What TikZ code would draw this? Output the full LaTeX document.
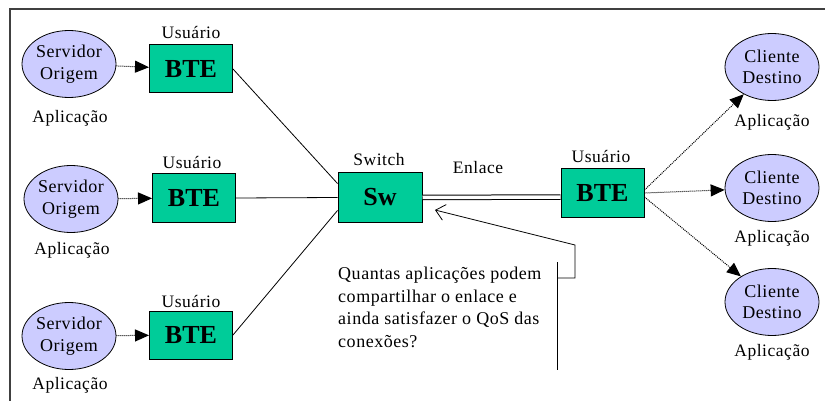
\documentclass[tikz,border=0pt]{standalone}
\usepackage{fontspec}
\setmainfont[LetterSpace=3]{Liberation Serif}
\newfontfamily\btefont{Liberation Serif}
\usetikzlibrary{arrows.meta,shapes.geometric}
\definecolor{appfill}{RGB}{204,204,255}
\definecolor{btefill}{RGB}{0,204,153}
\definecolor{framegray}{RGB}{64,64,64}
\tikzset{
  app/.style={ellipse,draw=black,line width=0.8pt,fill=appfill,minimum width=94pt,minimum height=67pt,inner sep=0pt,align=center,font=\fontsize{18}{21.5}\selectfont},
  btebox/.style={rectangle,draw=black,line width=1pt,fill=btefill,minimum width=83pt,minimum height=48pt,inner sep=0pt,font=\btefont\fontsize{26}{28}\selectfont\bfseries},
  lbl/.style={font=\fontsize{17.5}{21}\selectfont,inner sep=0pt},
  flow/.style={densely dotted,line width=1pt,-{Triangle[length=14pt,width=12pt]}},
  wire/.style={line width=0.8pt},
}
\begin{document}
\begin{tikzpicture}[x=1pt,y=-1pt]
\useasboundingbox (0,0) rectangle (825,401);
% frame
\draw[framegray,line width=1.5pt] (10,401) -- (10,9) -- (825,9);

% source applications
\node[app] (s1) at (69,64) {Servidor\\Origem};
\node[app] (s2) at (71,199) {Servidor\\Origem};
\node[app] (s3) at (69,336) {Servidor\\Origem};
\node[lbl] at (70,118) {Aplicação};
\node[lbl] at (72,250) {Aplicação};
\node[lbl] at (70,385) {Aplicação};

% user BTEs on the source side
\node[btebox] (b1) at (191,69) {BTE};
\node[btebox] (b2) at (194,198) {BTE};
\node[btebox] (b3) at (191,335) {BTE};
\node[lbl] at (191,33) {Usuário};
\node[lbl] at (192,163) {Usuário};
\node[lbl] at (191,301) {Usuário};

\draw[flow] (s1) -- (b1);
\draw[flow] (s2) -- (b2);
\draw[flow] (s3) -- (b3);

% switch
\node[btebox,minimum width=84pt,minimum height=49pt] (sw) at (380,197.5) {Sw};
\node[lbl] at (379,160) {Switch};

\draw[wire] (b1.east) -- ([yshift=14pt]sw.west);
\draw[wire] (b2.east) -- (sw.west);
\draw[wire] (b3.east) -- ([yshift=-13pt]sw.west);

% destination BTE and the shared link
\node[btebox] (br) at (602.5,193) {BTE};
\node[lbl] at (601,157) {Usuário};
\draw[line width=1pt,double distance=3.5pt] (sw.east) -- ([yshift=-4pt]br.west);
\node[lbl] at (478,168) {Enlace};

% destination applications
\node[app] (c1) at (772,67) {Cliente\\Destino};
\node[app] (c2) at (772,188) {Cliente\\Destino};
\node[app] (c3) at (772,302) {Cliente\\Destino};
\node[lbl] at (772,122) {Aplicação};
\node[lbl] at (772,238) {Aplicação};
\node[lbl] at (772,352) {Aplicação};

\draw[flow] ([yshift=3pt]br.east) -- (c1);
\draw[flow] (br.east) -- (c2);
\draw[flow] ([yshift=-4pt]br.east) -- (c3);

% callout with the question
\node[lbl,anchor=north west,align=left,font=\fontsize{18}{22.5}\selectfont] (q) at (338,267)
  {Quantas aplicações podem\\compartilhar o enlace e\\ainda satisfazer o QoS das\\conexões?};
\coordinate (qtop) at (557,262);
\coordinate (qbot) at (557,370);
\coordinate (qc) at (557,278);
\coordinate (qb) at (575,278);
\coordinate (qa) at (575,245);
\coordinate (qtip) at (435,210);
\draw[wire] (qtop) -- (qbot);
\draw[wire,-{Straight Barb[length=9pt,width=16pt]}] (qc) -- (qb) -- (qa) -- (qtip);
\end{tikzpicture}
\end{document}
